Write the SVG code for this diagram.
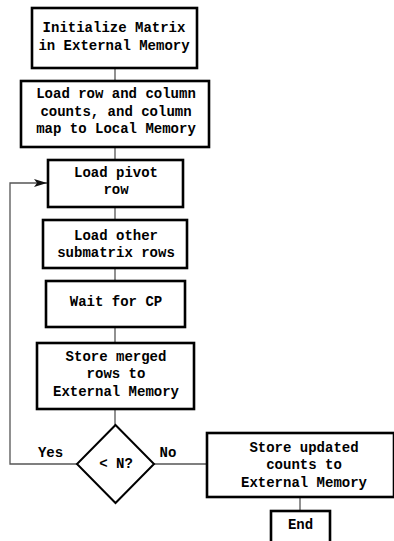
<svg xmlns="http://www.w3.org/2000/svg" width="394" height="541" viewBox="0 0 394 541">
  <style>
    .box { fill: #fff; stroke: #000; stroke-width: 2.6; }
    .dia { fill: #fff; stroke: #000; stroke-width: 2; }
    .lbl { font-family: "Liberation Mono", "DejaVu Sans Mono", monospace; font-weight: bold; font-size: 14px; fill: #000; text-anchor: middle; }
    .edge { fill: none; stroke: #555; stroke-width: 1.3; }
  </style>
  <defs>
    <marker id="arrow" markerWidth="14" markerHeight="10" refX="13" refY="5" orient="auto" markerUnits="userSpaceOnUse">
      <path d="M0,1 L13,5 L0,9 L3,5 Z" fill="#111"/>
    </marker>
  </defs>
  <rect width="394" height="541" fill="#fff"/>

  <!-- connectors -->
  <g id="connectors">
    <line class="edge" x1="115" y1="68" x2="115" y2="81"/>
    <line class="edge" x1="115" y1="147" x2="115" y2="160"/>
    <line class="edge" x1="115" y1="207" x2="115" y2="220"/>
    <line class="edge" x1="115" y1="268" x2="115" y2="281"/>
    <line class="edge" x1="115" y1="327" x2="115" y2="343"/>
    <line class="edge" x1="115" y1="409" x2="115" y2="425"/>
    <polyline class="edge" points="77,464 10,464 10,183 47,183" marker-end="url(#arrow)"/>
    <line class="edge" x1="154" y1="464" x2="207" y2="464"/>
    <line class="edge" x1="300" y1="497" x2="300" y2="511"/>
  </g>

  <g id="init">
    <rect class="box" x="32" y="8" width="165" height="60"/>
    <text class="lbl" x="114" y="32">Initialize Matrix</text>
    <text class="lbl" x="114" y="50">in External Memory</text>
  </g>

  <g id="load-counts">
    <rect class="box" x="21" y="81" width="188" height="66"/>
    <text class="lbl" x="116" y="98">Load row and column</text>
    <text class="lbl" x="116" y="116">counts, and column</text>
    <text class="lbl" x="116" y="133">map to Local Memory</text>
  </g>

  <g id="load-pivot">
    <rect class="box" x="48" y="160" width="135" height="47"/>
    <text class="lbl" x="116" y="177">Load pivot</text>
    <text class="lbl" x="116" y="194">row</text>
  </g>

  <g id="load-other">
    <rect class="box" x="43" y="220" width="144" height="48"/>
    <text class="lbl" x="116" y="240">Load other</text>
    <text class="lbl" x="116" y="257">submatrix rows</text>
  </g>

  <g id="wait-cp">
    <rect class="box" x="46" y="281" width="139" height="46"/>
    <text class="lbl" x="116" y="306">Wait for CP</text>
  </g>

  <g id="store-merged">
    <rect class="box" x="37" y="343" width="157" height="66"/>
    <text class="lbl" x="116" y="361">Store merged</text>
    <text class="lbl" x="116" y="378">rows to</text>
    <text class="lbl" x="116" y="396">External Memory</text>
  </g>

  <g id="decision">
    <polygon class="dia" points="115.5,425 154,464 115.5,503 77,464"/>
    <text class="lbl" x="116" y="468">&lt; N?</text>
    <text class="lbl" x="50.5" y="457">Yes</text>
    <text class="lbl" x="168" y="457">No</text>
  </g>

  <g id="store-updated">
    <rect class="box" x="207" y="433" width="187" height="64"/>
    <text class="lbl" x="304" y="452">Store updated</text>
    <text class="lbl" x="304" y="469">counts to</text>
    <text class="lbl" x="304" y="487">External Memory</text>
  </g>

  <g id="end">
    <rect class="box" x="271" y="511" width="59" height="40"/>
    <text class="lbl" x="300.5" y="529">End</text>
  </g>
</svg>
